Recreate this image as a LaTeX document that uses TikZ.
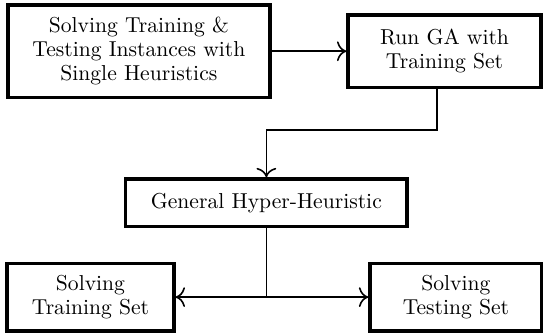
\documentclass[tikz,border=0pt]{standalone}
\usepackage{tikz}
\usetikzlibrary{arrows.meta}

\begin{document}
\begin{tikzpicture}[
    font=\fontsize{10.8}{12}\selectfont,
    blk/.style={draw, line width=1.7pt, align=center, inner sep=0pt, minimum height=#1},
    blk/.default=1.2cm,
    arr/.style={-{To[scale=1.4]}, thick}
]
            \useasboundingbox (0, 0) rectangle (9.54, -5.87);

            \node[blk=1.62cm, minimum width=4.6cm] (single) at (2.44, -0.9) {Solving Training \&\\Testing Instances with\\Single Heuristics};
            \node[blk=1.27cm, minimum width=3.39cm] (runga) at (7.81, -0.9) {Run GA with\\Training Set};
            \node[blk=0.83cm, minimum width=4.94cm] (general) at (4.68, -3.56) {General Hyper-Heuristic};
            \node[blk=1.19cm, minimum width=2.93cm] (trainset) at (1.59, -5.22) {Solving\\Training Set};
            \node[blk=1.19cm, minimum width=3.02cm] (testset) at (8.01, -5.22) {Solving\\Testing Set};

            \coordinate (bend) at (4.68, -2.28);
            \coordinate (split) at (general.south |- trainset.east);

            \draw[arr] (single) to (runga);
            \draw[arr] ([xshift=-0.13cm]runga.south) |- (bend) to (general.north);
            \draw[thick] (general.south) to (split);
            \draw[arr] (split) to (trainset.east);
            \draw[arr] (split) to (testset.west);
\end{tikzpicture}
\end{document}
